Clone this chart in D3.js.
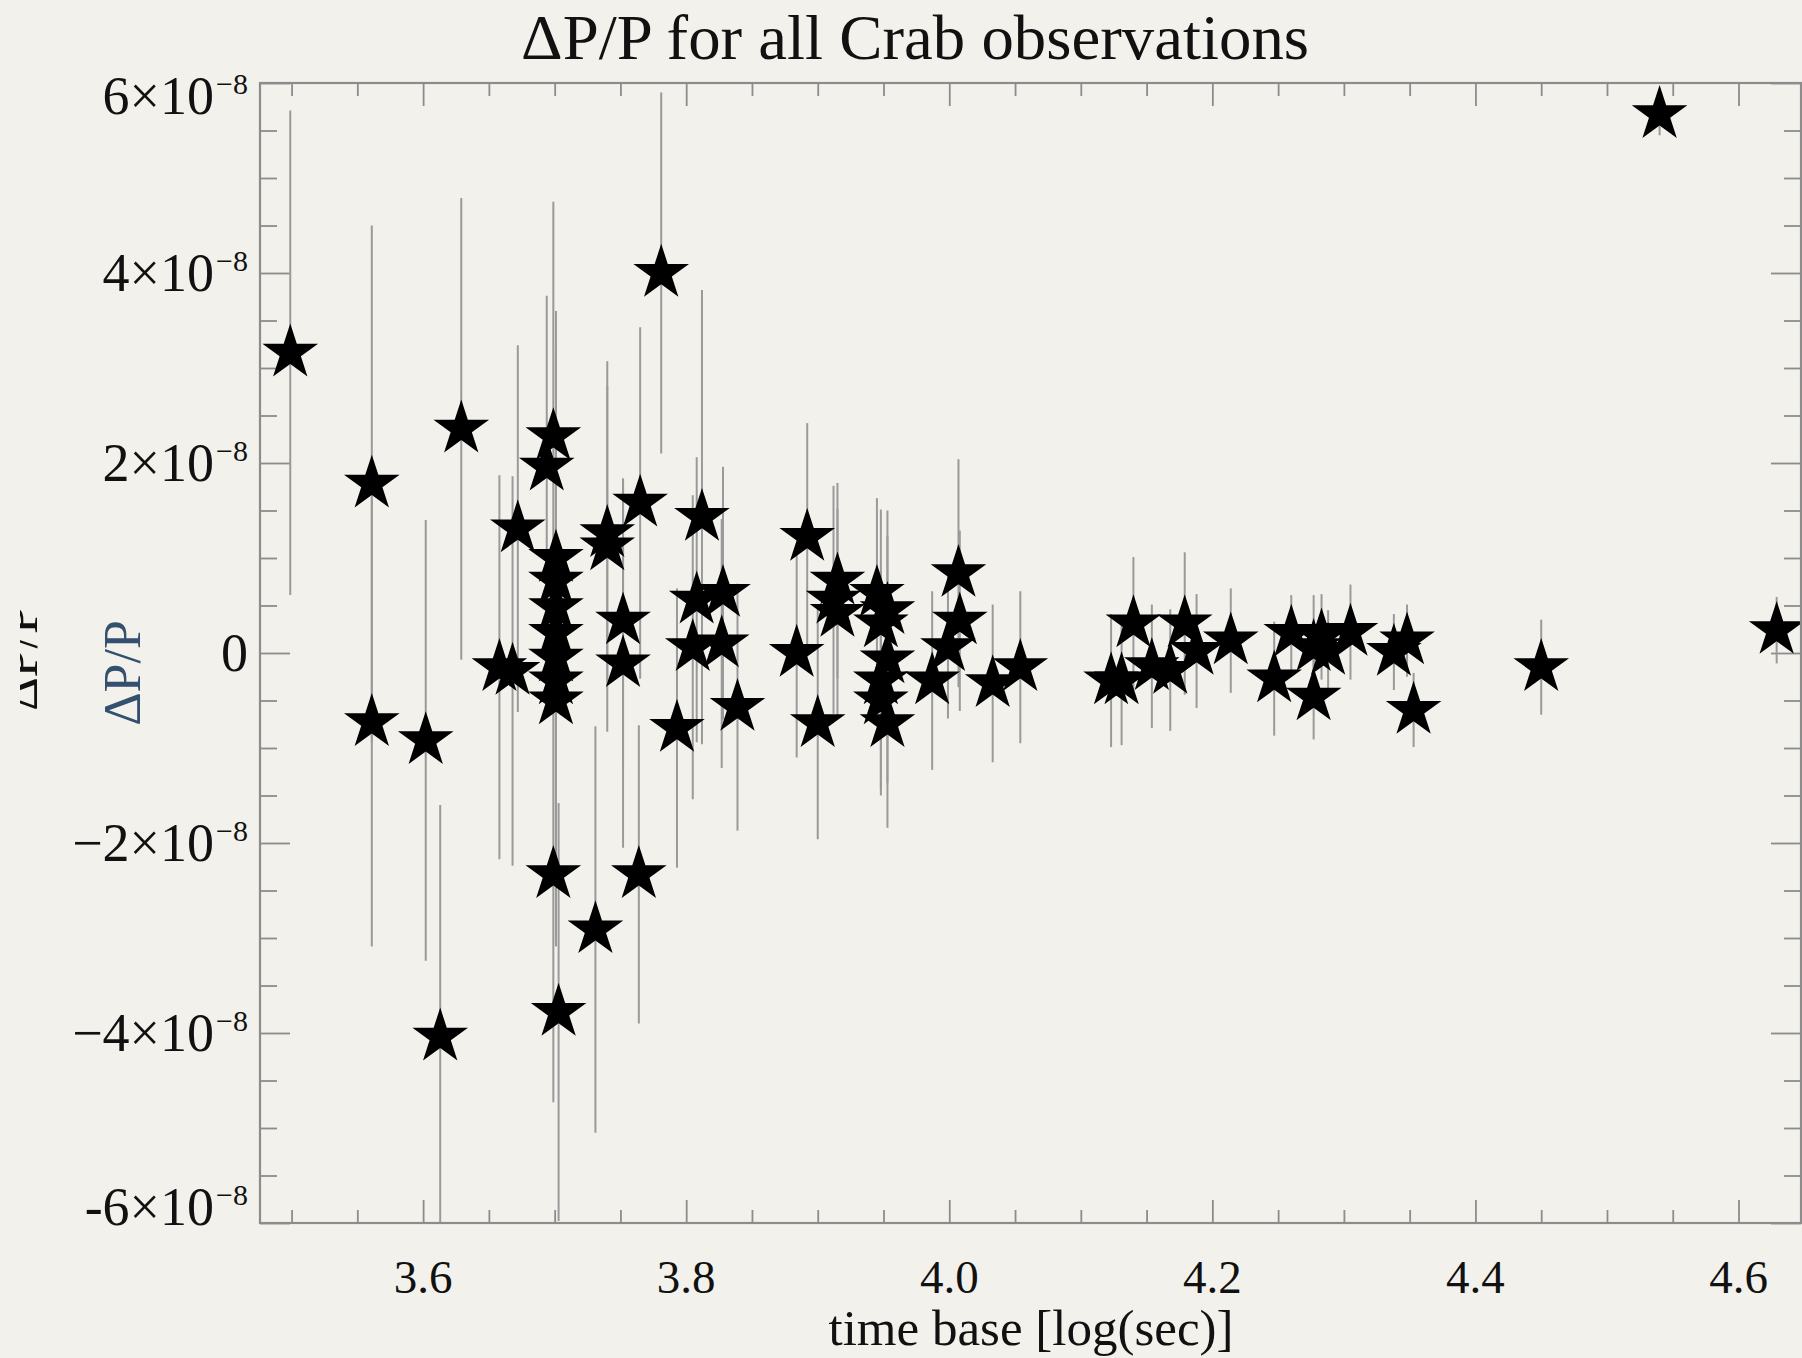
<!DOCTYPE html>
<html>
<head>
<meta charset="utf-8">
<script src="https://cdn.jsdelivr.net/npm/d3@7"></script>
<style>
body { margin: 0; background: #f3f1ec; }
svg { display: block; }
text { font-family: "Liberation Serif", "Times New Roman", serif; }
</style>
</head>
<body>
<div id="chart"></div>
<script>
// time base [log(sec)], dP/P (units of 1e-8) and its error, one entry per observation
var timeBase = [3.499, 3.561, 3.561, 3.602, 3.613, 3.629, 3.672, 3.658, 3.668,
  3.699, 3.694, 3.701, 3.701, 3.701, 3.701, 3.701, 3.701, 3.701, 3.699, 3.703,
  3.731, 3.764, 3.740, 3.740, 3.765, 3.752, 3.752, 3.781,
  3.812, 3.808, 3.828, 3.805, 3.827, 3.793, 3.839,
  3.892, 3.884, 3.900, 3.915, 3.912, 3.915,
  3.945, 3.953, 3.948, 3.953, 3.948, 3.948, 3.953,
  4.007, 4.008, 3.999, 3.987, 4.033, 4.054,
  4.123, 4.131, 4.140, 4.154, 4.168, 4.179, 4.188, 4.214,
  4.247, 4.260, 4.277, 4.283, 4.288, 4.277, 4.305, 4.338, 4.348, 4.353,
  4.450, 4.540, 4.629];
var dpp = [3.16, 1.78, -0.73, -0.92, -4.04, 2.36, 1.31, -0.15, -0.19,
  2.28, 1.96, 1.00, 0.76, 0.48, 0.21, -0.05, -0.29, -0.50, -2.33, -3.78,
  -2.91, -2.33, 1.26, 1.12, 1.58, 0.34, -0.11, 4.00,
  1.43, 0.56, 0.63, 0.06, 0.10, -0.79, -0.57,
  1.22, 0.00, -0.74, 0.76, 0.56, 0.42,
  0.63, 0.45, 0.31, -0.07, -0.29, -0.50, -0.74,
  0.84, 0.34, 0.06, -0.29, -0.32, -0.15,
  -0.29, -0.29, 0.31, -0.14, -0.18, 0.31, 0.02, 0.13,
  -0.27, 0.21, 0.06, 0.17, 0.02, -0.46, 0.22, 0.01, 0.13, -0.60,
  -0.15, 5.67, 0.24];
var dppErr = [2.55, 2.72, 2.36, 2.32, 2.44, 2.43, 1.93, 2.02, 2.05,
  2.47, 1.80, 2.60, 2.50, 2.70, 2.40, 2.60, 2.80, 2.50, 2.40, 2.20,
  2.14, 1.57, 1.55, 1.95, 1.85, 1.50, 1.94, 1.90,
  2.39, 1.50, 1.33, 1.60, 1.31, 1.47, 1.30,
  1.20, 1.10, 1.22, 1.03, 1.20, 1.10,
  1.00, 1.05, 1.20, 1.30, 1.15, 1.00, 1.10,
  1.20, 0.95, 0.75, 0.94, 0.83, 0.80,
  0.70, 0.68, 0.70, 0.65, 0.64, 0.75, 0.60, 0.55,
  0.60, 0.40, 0.55, 0.45, 0.43, 0.45, 0.50, 0.40, 0.38, 0.39,
  0.50, 0.22, 0.35];

var xMajorTicks = [3.6, 3.8, 4.0, 4.2, 4.4, 4.6];
var xTickLabels = ["3.6", "3.8", "4.0", "4.2", "4.4", "4.6"];
var yMajorTicks = [-6, -4, -2, 0, 2, 4, 6];
var yTickLabels = ["-6", "\u22124", "\u22122", "0", "2", "4", "6"];

var svgWidth = 1802;
var svgHeight = 1358;
var plot = { left: 260, right: 1801, top: 83, bottom: 1223 };
var axisColor = "#8c8c8c";

var svg = d3.select("#chart").append("svg")
    .attr("width", svgWidth)
    .attr("height", svgHeight);

svg.append("rect")
    .attr("width", svgWidth)
    .attr("height", svgHeight)
    .attr("fill", "#f3f1ec");

var x = d3.scaleLinear().domain([3.476, 4.6475]).range([plot.left, plot.right]);
var y = d3.scaleLinear().domain([-6, 6]).range([plot.bottom, plot.top]);

var xMinor = d3.range(3.5, 4.65, 0.05).map(d => Math.round(d * 100) / 100)
    .filter(d => xMajorTicks.indexOf(d) < 0);
var yMinor = d3.range(-5.5, 6, 0.5).filter(d => yMajorTicks.indexOf(d) < 0);

// ticks on all four sides, pointing inward
function ticks(axis, pos, values, len) {
    var g = svg.append("g")
        .attr("transform", pos)
        .call(axis.tickValues(values).tickSize(-len).tickFormat(""));
    g.select(".domain").remove();
    g.selectAll("line").attr("stroke", axisColor).attr("stroke-width", 1.8);
}
ticks(d3.axisBottom(x), `translate(0,${plot.bottom})`, xMajorTicks, 23);
ticks(d3.axisBottom(x), `translate(0,${plot.bottom})`, xMinor, 13);
ticks(d3.axisTop(x), `translate(0,${plot.top})`, xMajorTicks, 23);
ticks(d3.axisTop(x), `translate(0,${plot.top})`, xMinor, 13);
ticks(d3.axisLeft(y), `translate(${plot.left},0)`, yMajorTicks, 30);
ticks(d3.axisLeft(y), `translate(${plot.left},0)`, yMinor, 17);
ticks(d3.axisRight(y), `translate(${plot.right},0)`, yMajorTicks, 30);
ticks(d3.axisRight(y), `translate(${plot.right},0)`, yMinor, 17);

svg.append("clipPath").attr("id", "plotClip")
    .append("rect")
    .attr("x", plot.left).attr("y", plot.top)
    .attr("width", plot.right - plot.left).attr("height", plot.bottom - plot.top);

var data = timeBase.map((t, i) => ({ t: t, v: dpp[i], e: dppErr[i] }));

var marks = svg.append("g").attr("clip-path", "url(#plotClip)");

marks.selectAll(".err")
    .data(data)
    .enter().append("line")
    .attr("class", "err")
    .attr("x1", d => x(d.t))
    .attr("x2", d => x(d.t))
    .attr("y1", d => y(d.v - d.e))
    .attr("y2", d => y(d.v + d.e))
    .attr("stroke", "#9a9a9a")
    .attr("stroke-width", 2);

var star = d3.symbol().type(d3.symbolStar).size(960);
marks.selectAll(".star")
    .data(data)
    .enter().append("path")
    .attr("class", "star")
    .attr("d", star)
    .attr("transform", d => `translate(${x(d.t)},${y(d.v)})`)
    .attr("fill", "#000");

// frame
svg.append("rect")
    .attr("x", plot.left).attr("y", plot.top)
    .attr("width", plot.right - plot.left).attr("height", plot.bottom - plot.top)
    .attr("fill", "none")
    .attr("stroke", axisColor)
    .attr("stroke-width", 2.2);

// x tick labels
svg.selectAll(".xlab")
    .data(xMajorTicks)
    .enter().append("text")
    .attr("x", d => x(d))
    .attr("y", 1293)
    .attr("text-anchor", "middle")
    .attr("font-size", 47)
    .attr("fill", "#111")
    .text((d, i) => xTickLabels[i]);

// y tick labels, k x 10^-8
var ylab = svg.selectAll(".ylab")
    .data(yMajorTicks)
    .enter().append("text")
    .attr("x", 248)
    .attr("y", function(d) {
        if (d === 6) return y(d) + 31;
        if (d === -6) return y(d) + 2;
        return y(d) + 18;
    })
    .attr("text-anchor", "end")
    .attr("font-size", 54)
    .attr("fill", "#111");
ylab.append("tspan")
    .text((d, i) => d === 0 ? "0" : yTickLabels[i] + "\u00d710");
ylab.filter(d => d !== 0).append("tspan")
    .attr("dy", -20)
    .attr("dx", 2)
    .attr("font-size", 30)
    .text("\u22128");

// title
svg.append("text")
    .attr("x", 915)
    .attr("y", 59)
    .attr("text-anchor", "middle")
    .attr("font-size", 63)
    .attr("textLength", 788)
    .attr("lengthAdjust", "spacingAndGlyphs")
    .attr("fill", "#111")
    .text("\u0394P/P for all Crab observations");

// x axis title
svg.append("text")
    .attr("x", 1031)
    .attr("y", 1345)
    .attr("text-anchor", "middle")
    .attr("font-size", 51)
    .attr("fill", "#111")
    .text("time base [log(sec)]");

// y axis title (blue) and the clipped black one at the edge
svg.append("text")
    .attr("transform", "translate(140,673) rotate(-90)")
    .attr("text-anchor", "middle")
    .attr("font-size", 52)
    .attr("fill", "#34506f")
    .text("\u0394P/P");

svg.append("clipPath").attr("id", "edgeClip")
    .append("rect").attr("x", 20).attr("y", 0).attr("width", 40).attr("height", svgHeight);

svg.append("g")
    .attr("clip-path", "url(#edgeClip)")
    .append("text")
    .attr("transform", "translate(37,658) rotate(-90)")
    .attr("text-anchor", "middle")
    .attr("font-size", 52)
    .attr("fill", "#111")
    .text("\u0394P/P");
</script>
</body>
</html>
